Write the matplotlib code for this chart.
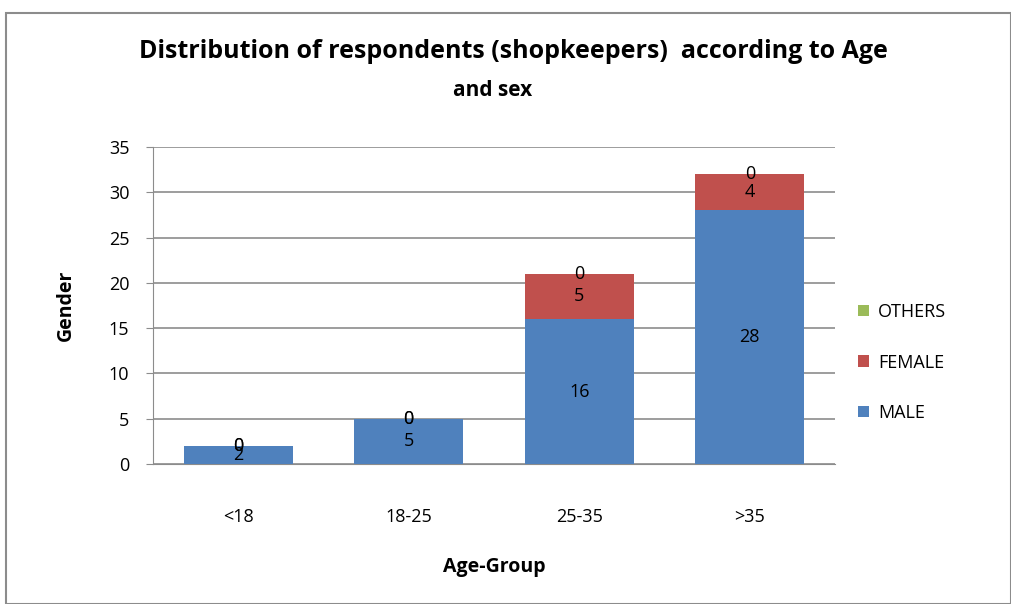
import numpy as np
import matplotlib.pyplot as plt
from matplotlib.patches import Rectangle

# data
groups = ['<18', '18-25', '25-35', '>35']
male = [2, 5, 16, 28]
female = [0, 0, 5, 4]
others = [0, 0, 0, 0]

plt.rcParams['font.family'] = ['Open Sans', 'DejaVu Sans']

fig = plt.figure(figsize=(10.11, 6.04), dpi=100)
# outer frame like the excel chart area
fig.patches.append(Rectangle((0.006, 0.0), 0.994, 0.978, transform=fig.transFigure,
                             fill=False, edgecolor='#8c8c8c', linewidth=1.5))

ax = fig.add_axes([153/1011, 1 - 464/604, 682/1011, 317/604])

x = np.arange(len(groups))
w = 0.64
blue = '#4F81BD'
red = '#C0504D'
green = '#9BBB59'

b1 = ax.bar(x, male, w, color=blue, label='MALE', zorder=3)
b2 = ax.bar(x, female, w, bottom=male, color=red, label='FEMALE', zorder=3)
bot2 = np.array(male) + np.array(female)
b3 = ax.bar(x, others, w, bottom=bot2, color=green, label='OTHERS', zorder=3)

# value labels in the middle of every segment (zero ones sit on the top)
for vals, bots in [(male, np.zeros(4)), (female, np.array(male)), (others, bot2)]:
    for i, v in enumerate(vals):
        ax.text(x[i], bots[i] + v / 2, str(v), ha='center', va='center',
                fontsize=13, color='black', zorder=4)

ax.set_xlim(-0.5, 3.5)
ax.set_ylim(0, 35)
ax.set_yticks(range(0, 36, 5))
ax.set_xticks(x)
ax.set_xticklabels(groups)
ax.yaxis.grid(True, color='#8c8c8c', linewidth=1.2, zorder=0)
ax.set_axisbelow(True)
for s in ['top', 'right']:
    ax.spines[s].set_visible(False)
ax.spines['left'].set_color('#8c8c8c')
ax.spines['bottom'].set_color('#8c8c8c')
ax.tick_params(axis='y', length=5, color='#8c8c8c', labelsize=13, pad=12)
ax.tick_params(axis='x', length=0, labelsize=13, pad=32)

ax.set_xlabel('Age-Group', fontsize=14, fontweight='bold', labelpad=22)
ax.set_ylabel('Gender', fontsize=14, fontweight='bold', labelpad=24)

fig.text(0.508, 1 - 52/604, 'Distribution of respondents (shopkeepers)  according to Age',
         ha='center', va='center', fontsize=18, fontweight='bold')
fig.text(0.487, 1 - 90/604, 'and sex', ha='center', va='center', fontsize=15,
         fontweight='bold')

handles = [b3, b2, b1]
ax.legend(handles, ['OTHERS', 'FEMALE', 'MALE'], loc='center left',
          bbox_to_anchor=(1.01, 0.32), frameon=False, fontsize=13,
          handlelength=0.6, handleheight=0.6, labelspacing=1.8, handletextpad=0.5)

fig.savefig('out.png', dpi=100)
